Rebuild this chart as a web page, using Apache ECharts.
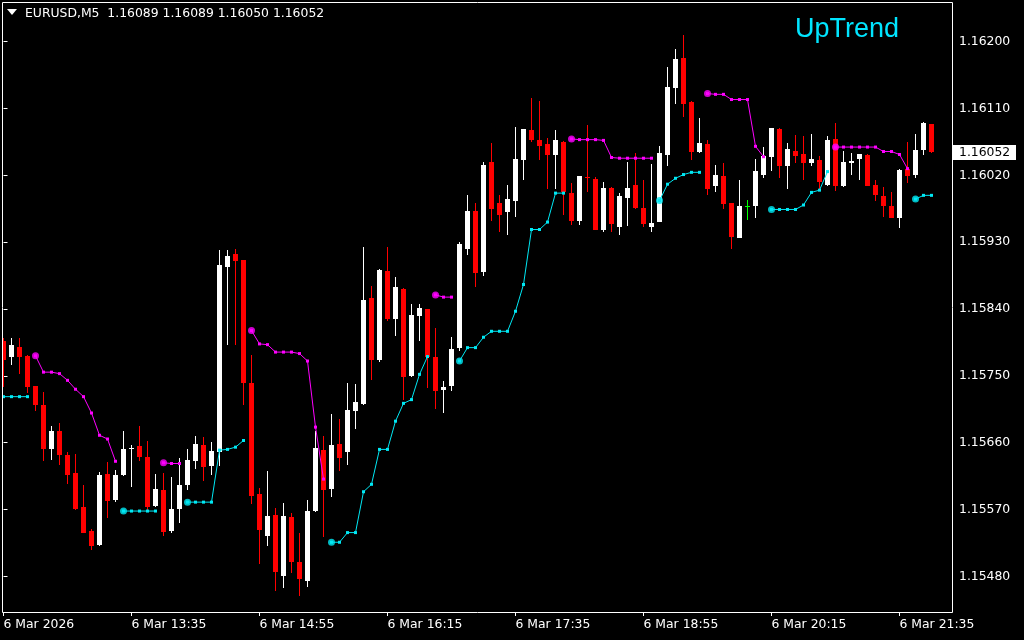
<!DOCTYPE html>
<html><head><meta charset="utf-8">
<script src="https://cdn.jsdelivr.net/npm/echarts@6/dist/echarts.min.js"></script>
<style>html,body{margin:0;padding:0;background:#000;}#c{width:1024px;height:640px;}</style>
</head><body><div id="c"></div>
<script>
const symbolName = 'EURUSD,M5';
const trendLabel = 'UpTrend';

const opens = [
1.15797,1.15776,1.15789,1.15777,1.15736,1.15711,1.15652,1.15676,1.15643,1.15619,
1.15573,1.15541,1.15522,1.15618,1.15583,1.15617,1.15652,1.15656,1.15641,1.15575,
1.15596,1.15541,1.15571,1.15603,1.15635,1.15657,1.15629,1.15648,1.15897,1.15914,
1.15906,1.15740,1.15591,1.15535,1.15563,1.15481,1.15560,1.15499,1.15474,1.15568,
1.15650,1.15598,1.15658,1.15648,1.15703,1.15712,1.15855,1.15772,1.15891,1.15826,
1.15867,1.15750,1.15831,1.15840,1.15775,1.15731,1.15737,1.15788,1.15921,1.15972,
1.15890,1.16038,1.15983,1.15971,1.15986,1.16040,1.16081,1.16068,1.16062,1.16048,
1.16065,1.15996,1.15959,1.16018,1.16015,1.15947,1.16003,1.15951,1.15990,1.16007,
1.15976,1.15951,1.15957,1.16048,1.16137,1.16178,1.16119,1.16052,1.16062,1.16006,
1.16019,1.15983,1.15936,1.15979,1.15978,1.16021,1.16045,1.16082,1.16032,1.16053,
1.16049,1.16037,1.16041,1.16007,1.16069,1.16005,1.16036,1.16042,1.16047,1.16007,
1.15992,1.15979,1.15962,1.16028,1.16021,1.16054,1.16089];
const highs = [
1.15801,1.15801,1.15801,1.15778,1.15737,1.15728,1.15682,1.15687,1.15647,1.15645,
1.15603,1.15544,1.15621,1.15634,1.15623,1.15676,1.15657,1.15682,1.15662,1.15618,
1.15619,1.15614,1.15639,1.15652,1.15669,1.15668,1.15661,1.15919,1.15919,1.15921,
1.15906,1.15778,1.15599,1.15622,1.15572,1.15579,1.15565,1.15538,1.15583,1.15676,
1.15669,1.15699,1.15692,1.15740,1.15739,1.15923,1.15871,1.15894,1.15923,1.15883,
1.15868,1.15847,1.15847,1.15840,1.15814,1.15743,1.15802,1.15930,1.15993,1.15983,
1.16038,1.16063,1.15993,1.16007,1.16085,1.16082,1.16124,1.16120,1.16070,1.16081,
1.16066,1.16010,1.16019,1.16088,1.16018,1.16011,1.16004,1.15996,1.16038,1.16050,
1.16014,1.16035,1.16059,1.16166,1.16190,1.16209,1.16120,1.16097,1.16068,1.16034,
1.16037,1.15983,1.16014,1.15987,1.16042,1.16058,1.16084,1.16084,1.16063,1.16074,
1.16073,1.16076,1.16046,1.16073,1.16090,1.16053,1.16050,1.16049,1.16049,1.16014,
1.16004,1.15998,1.16028,1.16065,1.16076,1.16092,1.16089];
const lows = [
1.15735,1.15765,1.15753,1.15727,1.15703,1.15636,1.15637,1.15630,1.15605,1.15570,
1.15538,1.15516,1.15521,1.15558,1.15580,1.15615,1.15601,1.15635,1.15570,1.15574,
1.15535,1.15539,1.15552,1.15596,1.15625,1.15608,1.15617,1.15628,1.15792,1.15792,
1.15711,1.15578,1.15497,1.15521,1.15461,1.15465,1.15484,1.15453,1.15466,1.15567,
1.15533,1.15587,1.15622,1.15630,1.15679,1.15711,1.15745,1.15769,1.15824,1.15803,
1.15718,1.15749,1.15797,1.15734,1.15706,1.15700,1.15730,1.15783,1.15913,1.15870,
1.15885,1.15959,1.15943,1.15940,1.15964,1.16013,1.16065,1.16040,1.16001,1.16001,
1.15967,1.15953,1.15953,1.15998,1.15946,1.15943,1.15943,1.15940,1.15952,1.15975,
1.15951,1.15944,1.15957,1.16032,1.16116,1.16098,1.16041,1.16050,1.15993,1.15998,
1.15974,1.15921,1.15935,1.15960,1.15963,1.16017,1.16026,1.16017,1.16001,1.16037,
1.16013,1.16033,1.16002,1.16006,1.15999,1.16004,1.16021,1.16013,1.16005,1.15986,
1.15964,1.15962,1.15949,1.16010,1.16017,1.16048,1.16050];
const closes = [
1.15771,1.15791,1.15776,1.15735,1.15711,1.15651,1.15676,1.15644,1.15617,1.15571,
1.15539,1.15521,1.15617,1.15582,1.15617,1.15652,1.15653,1.15641,1.15573,1.15598,
1.15540,1.15571,1.15603,1.15637,1.15658,1.15627,1.15649,1.15899,1.15911,1.15904,
1.15741,1.15588,1.15543,1.15561,1.15486,1.15561,1.15500,1.15477,1.15568,1.15653,
1.15597,1.15657,1.15640,1.15704,1.15715,1.15852,1.15772,1.15892,1.15826,1.15870,
1.15749,1.15832,1.15841,1.15776,1.15730,1.15735,1.15786,1.15928,1.15972,1.15889,
1.16034,1.15975,1.15966,1.15988,1.16042,1.16082,1.16068,1.16060,1.16048,1.16068,
1.15997,1.15959,1.16019,1.16017,1.15947,1.16003,1.15954,1.15992,1.16003,1.15976,
1.15954,1.15956,1.16050,1.16139,1.16177,1.16116,1.16052,1.16063,1.16001,1.16020,
1.15982,1.15937,1.15979,1.15979,1.16026,1.16046,1.16084,1.16033,1.16055,1.16046,
1.16037,1.16042,1.16011,1.16068,1.16006,1.16038,1.16039,1.16049,1.16006,1.15993,
1.15979,1.15963,1.16027,1.16019,1.16054,1.16090,1.16052];

// trailing indicator: magenta = down stop, cyan = up stop (null = not active)
const downStop = [
null,null,null,null,1.15777,1.15755,1.15755,1.15753,1.15744,1.15732,
1.15722,1.15700,1.15670,1.15665,1.15635,null,null,null,null,null,
1.15633,1.15632,1.15632,null,null,null,null,null,null,null,
null,1.15811,1.15793,1.15792,1.15782,1.15782,1.15782,1.15780,1.15770,1.15681,
1.15611,null,null,null,null,null,null,null,null,null,
null,null,null,null,1.15859,1.15856,1.15856,null,null,null,
null,null,null,null,null,null,null,null,null,null,
null,1.16069,1.16068,1.16068,1.16068,1.16067,1.16044,1.16043,1.16043,1.16043,
1.16043,1.16043,null,null,null,null,null,null,1.16130,1.16129,
1.16129,1.16122,1.16122,1.16122,1.16059,1.16045,null,null,null,null,
null,null,null,null,1.16058,1.16058,1.16058,1.16058,1.16058,1.16058,
1.16052,1.16052,1.16048,1.16029,null,null,null];
const upStop = [
1.15722,1.15722,1.15722,1.15722,null,null,null,null,null,null,
null,null,null,null,null,1.15568,1.15568,1.15568,1.15568,1.15568,
null,null,null,1.15580,1.15580,1.15580,1.15580,1.15650,1.15651,1.15654,
1.15663,null,null,null,null,null,null,null,null,null,
null,1.15526,1.15526,1.15539,1.15539,1.15594,1.15604,1.15651,1.15651,1.15689,
1.15713,1.15718,1.15752,1.15776,null,null,null,1.15770,1.15788,1.15788,
1.15802,1.15810,1.15810,1.15810,1.15837,1.15873,1.15947,1.15947,1.15957,1.15996,
1.15996,null,null,null,null,null,null,null,null,null,
null,null,1.15986,1.16008,1.16016,1.16021,1.16024,1.16024,null,null,
null,null,null,null,null,null,1.15974,1.15974,1.15974,1.15974,
1.15980,1.15997,1.16000,1.16025,null,null,null,null,null,null,
null,null,null,null,1.15988,1.15993,1.15993];

const timeTickIdx = [0,16,32,48,64,80,96,112];
const timeTickLabels = ['6 Mar 2026','6 Mar 13:35','6 Mar 14:55','6 Mar 16:15','6 Mar 17:35','6 Mar 18:55','6 Mar 20:15','6 Mar 21:35'];
const priceTicks = [1.15480,1.15570,1.15660,1.15750,1.15840,1.15930,1.16020,1.16110,1.16200];

const FONT = 'DejaVu Sans';
const FS = 12.4;
const MAGENTA = '#ff00ff';
const CYAN = '#00e8f4';

const candleData = opens.map((o, i) => [i, o, closes[i], lows[i], highs[i]]);
function lineData(arr) { return arr.map((v, i) => [i, v == null ? '-' : v]); }
function starts(arr) {
  const out = [];
  arr.forEach((v, i) => { if (v != null && i > 0 && arr[i - 1] == null) out.push([i, v]); });
  return out;
}

function renderCandle(params, api) {
  const i = api.value(0), o = api.value(1), c = api.value(2), l = api.value(3), h = api.value(4);
  const po = api.coord([i, o]), pc = api.coord([i, c]), pl = api.coord([i, l]), ph = api.coord([i, h]);
  const cx = po[0];
  const color = c > o ? '#ffffff' : (c < o ? '#ff0000' : '#00ff00');
  const yTop = Math.round(Math.min(po[1], pc[1]));
  const yBot = Math.round(Math.max(po[1], pc[1]));
  const yH = Math.round(ph[1]), yL = Math.round(pl[1]);
  return {
    type: 'group',
    children: [
      { type: 'rect', shape: { x: Math.round(cx - 0.5), y: yH, width: 1, height: Math.max(1, yL - yH) }, style: { fill: color } },
      { type: 'rect', shape: { x: Math.round(cx - 2.5), y: yTop, width: 5, height: Math.max(1, yBot - yTop) }, style: { fill: color } }
    ]
  };
}

const chart = echarts.init(document.getElementById('c'), null, { renderer: 'canvas' });
const lastClose = closes[closes.length - 1];
const last = opens.length - 1;
const headerText = symbolName + '  ' + [opens[last], highs[last], lows[last], closes[last]].map(v => v.toFixed(5)).join(' ');

chart.setOption({
  backgroundColor: '#000000',
  animation: false,
  grid: { left: 2, top: 2, width: 950, height: 610, show: false },
  xAxis: {
    type: 'value', min: -0.1875, max: 118.5625,
    axisLine: { show: false }, splitLine: { show: false },
    axisTick: { show: true, customValues: timeTickIdx, length: 4, lineStyle: { color: '#ffffff', width: 1 } },
    axisLabel: {
      customValues: timeTickIdx, color: '#ffffff', fontFamily: FONT, fontSize: FS, align: 'left', margin: 7,
      formatter: v => timeTickLabels[timeTickIdx.indexOf(Math.round(v))] || ''
    }
  },
  yAxis: {
    type: 'value', position: 'right', min: 1.154321, max: 1.162533, scale: true,
    axisLine: { show: false }, splitLine: { show: false },
    axisTick: { show: true, customValues: priceTicks, length: 4, lineStyle: { color: '#ffffff', width: 1 } },
    axisLabel: { customValues: priceTicks, color: '#ffffff', fontFamily: FONT, fontSize: FS, margin: 7, formatter: v => v.toFixed(5) }
  },
  series: [
    { type: 'custom', renderItem: renderCandle, data: candleData, encode: { x: 0, y: [1, 2, 3, 4] }, clip: true, z: 2, silent: true },
    { type: 'line', data: lineData(downStop), connectNulls: false, symbol: 'rect', symbolSize: 3, showSymbol: true,
      itemStyle: { color: MAGENTA }, lineStyle: { color: MAGENTA, width: 1 }, z: 3, silent: true },
    { type: 'line', data: lineData(upStop), connectNulls: false, symbol: 'rect', symbolSize: 3, showSymbol: true,
      itemStyle: { color: CYAN }, lineStyle: { color: CYAN, width: 1 }, z: 3, silent: true },
    { type: 'scatter', data: starts(downStop), symbol: 'circle', symbolSize: 7, itemStyle: { color: MAGENTA }, z: 4, silent: true },
    { type: 'scatter', data: starts(upStop), symbol: 'circle', symbolSize: 7, itemStyle: { color: CYAN }, z: 4, silent: true }
  ]
});

const tagY = chart.convertToPixel({ xAxisIndex: 0, yAxisIndex: 0 }, [0, lastClose])[1];
chart.setOption({
  graphic: [
    { type: 'rect', shape: { x: 2.5, y: 2.5, width: 950, height: 610 }, style: { fill: null, stroke: '#ffffff', lineWidth: 1 }, z: 10, silent: true },
    { type: 'polygon', shape: { points: [[7, 9], [17, 9], [12, 15]] }, style: { fill: '#ffffff' }, z: 10 },
    { type: 'text', x: 25, y: 14, style: { text: headerText, fill: '#ffffff', font: FS + 'px "' + FONT + '"', verticalAlign: 'middle', align: 'left' }, z: 10 },
    { type: 'text', x: 795, y: 30, style: { text: trendLabel, fill: '#00e5ff', font: '27px "Liberation Sans"', verticalAlign: 'middle', align: 'left' }, z: 10 },
    { type: 'rect', shape: { x: 953, y: Math.round(tagY) - 7, width: 63, height: 15 }, style: { fill: '#ffffff' }, z: 10 },
    { type: 'text', x: 959, y: Math.round(tagY) + 0.5, style: { text: lastClose.toFixed(5), fill: '#000000', font: FS + 'px "' + FONT + '"', verticalAlign: 'middle', align: 'left' }, z: 11 }
  ]
});
</script>
</body></html>
